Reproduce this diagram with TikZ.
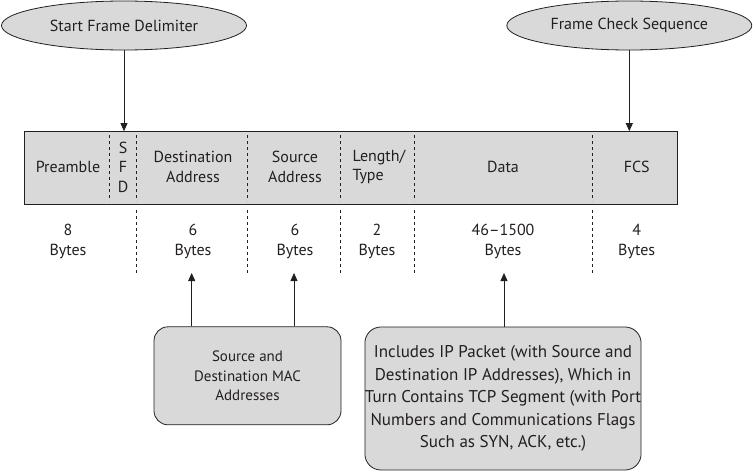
\documentclass[tikz,border=0pt]{standalone}
\usepackage{fontspec}
\setmainfont{PT Sans}
\usetikzlibrary{shapes.geometric,arrows.meta}

\definecolor{fieldgray}{RGB}{217,217,217}
\definecolor{inkgray}{RGB}{35,31,32}

\tikzset{
  note/.style={ellipse,draw=inkgray,thick,fill=fieldgray,minimum width=245,minimum height=49,inner sep=0pt},
  infobox/.style={rounded corners=14pt,draw=inkgray,thick,fill=fieldgray,align=center,inner sep=0pt},
  divider/.style={inkgray,thick,dash pattern=on 3pt off 3pt},
  pointer/.style={inkgray,thick,-{Triangle[length=8pt,width=7pt]}},
  field/.style={align=center,inner sep=0pt},
}

\begin{document}
\begin{tikzpicture}[x=1pt,y=-1pt,font=\fontsize{16}{19.5}\selectfont,text=inkgray]
			\useasboundingbox (0,0) rectangle (753,471);
			% the frame itself
			\node[draw=inkgray,thick,fill=fieldgray,minimum width=653,minimum height=72.5,inner sep=0pt] (frame) at (350.5,167.8) {};
			\foreach \x in {109.7,136,247.7,340.7,414.3,592.7}
				\draw[divider] (\x,135) -- (\x,201);
			\foreach \x in {136,247.7,340.7,414.3,592.7}
				\draw[divider] (\x,210) -- (\x,273);
			% field names
			\node[field] (pre) at (68,167) {Preamble};
			\node[field] (sfd) at (123,167) {S\\F\\D};
			\node[field] (dst) at (193,167) {Destination\\Address};
			\node[field] (src) at (295,167) {Source\\Address};
			\node[field,align=left] (len) at (379,167) {Length/\\Type};
			\node[field] (data) at (503,167) {Data};
			\node[field] (fcs) at (636.7,167) {FCS};
			% sizes
			\node[field] (preb) at (68,241.5) {8\\Bytes};
			\node[field] (dstb) at (193,241.5) {6\\Bytes};
			\node[field] (srcb) at (295,241.5) {6\\Bytes};
			\node[field] (lenb) at (377,241.5) {2\\Bytes};
			\node[field] (datab) at (503,241.5) {46--1500\\Bytes};
			\node[field] (fcsb) at (636.7,241.5) {4\\Bytes};
			% notes above
			\node[note] (sfdnote) at (124,25.5) {Start Frame Delimiter};
			\node[note] (fcsnote) at (629.3,25.5) {Frame Check Sequence};
			\draw[pointer] (sfdnote) -- (sfdnote |- frame.north);
			\draw[pointer] (fcsnote) -- (fcsnote |- frame.north);
			% notes below
			\node[infobox,minimum width=187,minimum height=98,font=\fontsize{15}{19.5}\selectfont] (macbox) at (247.5,375.8) {Source and\\Destination MAC\\Addresses};
			\node[infobox,rounded corners=16pt,minimum width=272,minimum height=143,font=\fontsize{17}{22.5}\selectfont] (databox) at (503,398.5) {Includes IP Packet (with Source and\\Destination IP Addresses), Which in\\Turn Contains TCP Segment (with Port\\Numbers and Communications Flags\\Such as SYN, ACK, etc.)};
			\coordinate (dsttip) at (191.7,273);
			\coordinate (srctip) at (294,273);
			\coordinate (datatip) at (504,273);
			\draw[pointer] (macbox.north -| dsttip) -- (dsttip);
			\draw[pointer] (macbox.north -| srctip) -- (srctip);
			\draw[pointer] (databox.north -| datatip) -- (datatip);
			\end{tikzpicture}
\end{document}
